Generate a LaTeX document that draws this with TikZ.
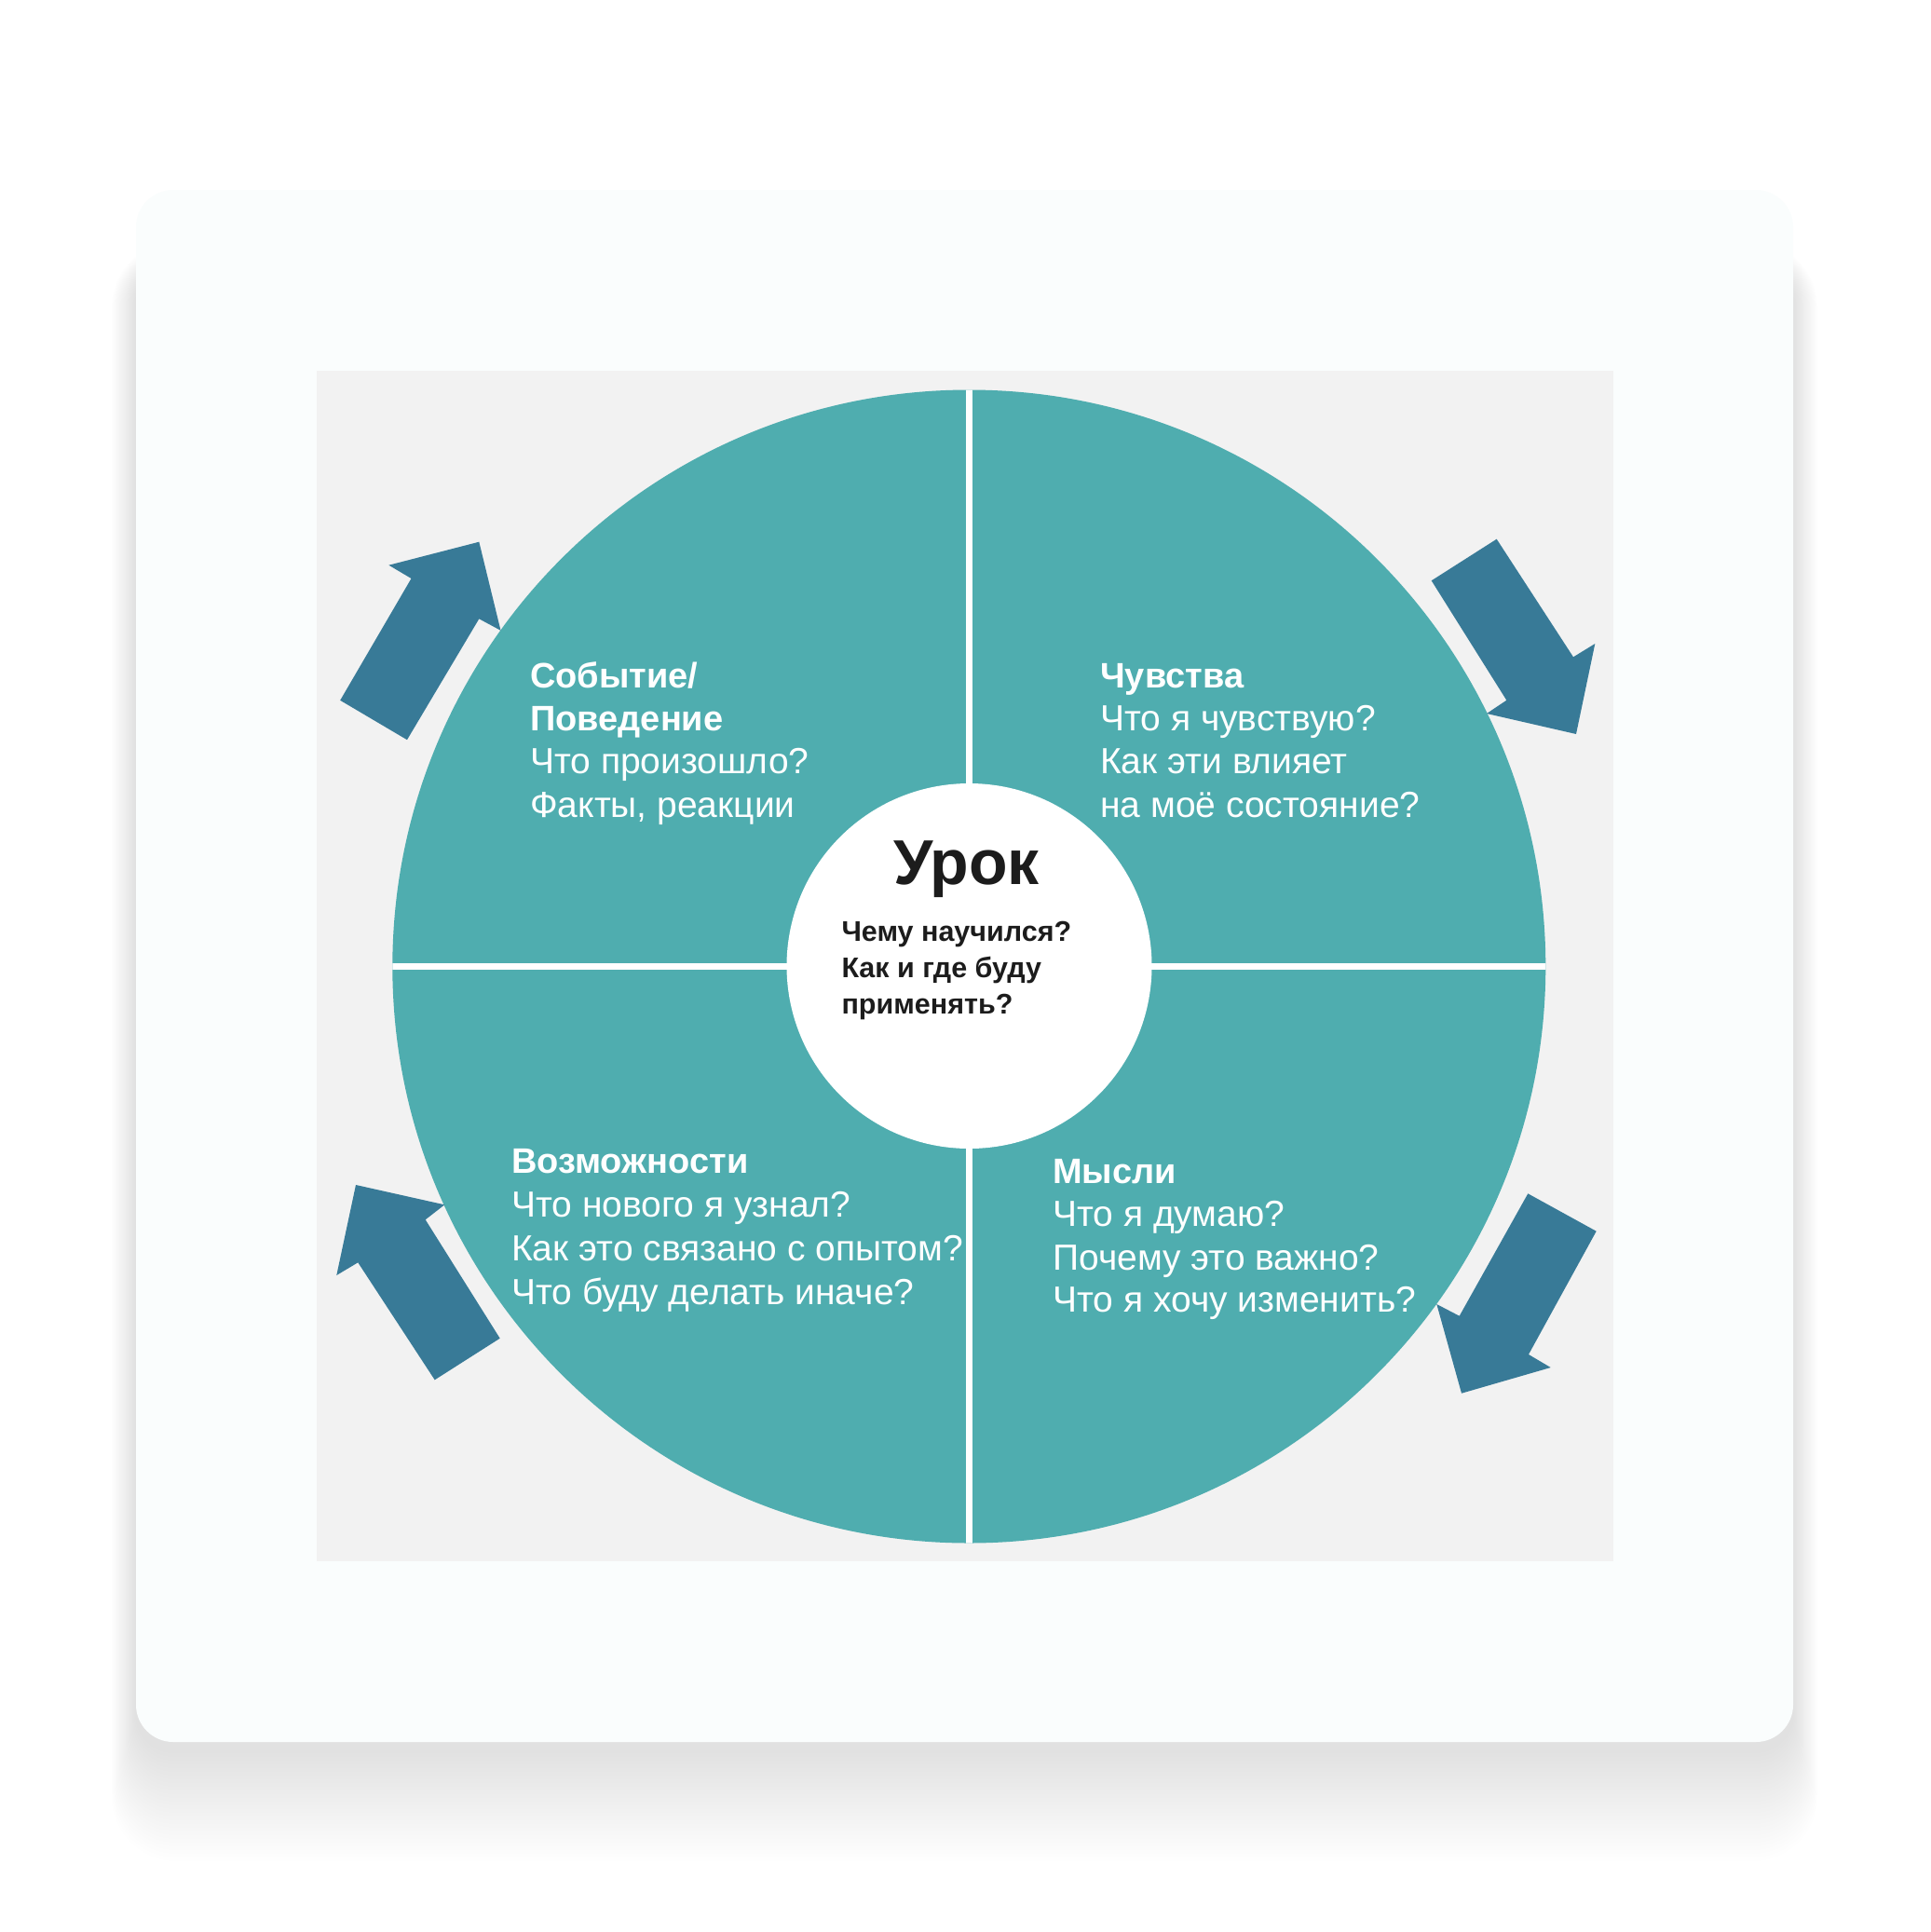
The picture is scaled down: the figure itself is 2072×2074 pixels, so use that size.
\documentclass[tikz,border=0pt]{standalone}
\usepackage{fontspec}
\setmainfont{Liberation Sans}
\definecolor{quadcol}{HTML}{4FADAF}
\definecolor{arrowcol}{HTML}{387A97}
\definecolor{graybg}{HTML}{F2F2F2}
\definecolor{cardcol}{HTML}{FAFDFD}
\definecolor{inktext}{HTML}{1C1C1C}
\begin{document}
\begin{tikzpicture}[x=1pt,y=-1pt,
  qhead/.style={anchor=base west, inner sep=0pt, text=white, font=\fontsize{38}{46}\selectfont\bfseries},
  qbody/.style={anchor=base west, inner sep=0pt, text=white, font=\fontsize{39}{46}\selectfont},
  ctitle/.style={anchor=base, inner sep=0pt, text=inktext, font=\fontsize{68}{80}\selectfont\bfseries},
  cbody/.style={anchor=base west, inner sep=0pt, text=inktext, font=\fontsize{30.5}{39}\selectfont\bfseries},
  bigarrow/.style={fill=arrowcol},
]
\useasboundingbox (0,0) rectangle (2072,2074);
\fill[white] (0,0) rectangle (2072,2074);
% card shadow
\foreach \e in {4,8,...,120}{
  \fill[black, opacity=0.005, rounded corners={40+0.25*\e}]
    ({146-0.22*\e},{284-0.2*\e}) rectangle ({1925+0.22*\e},{1878+\e});
}
% card
\fill[cardcol, rounded corners=40] (146,204) rectangle (1925,1870);
% gray panel
\fill[graybg] (340,398) rectangle (1732,1676);
% wheel
\coordinate (wc) at (1040.3,1037.5);
\fill[quadcol] (wc) circle[radius=619];
\begin{scope}
  \clip (wc) circle[radius=619];
  \fill[white] (1037.1,400) rectangle (1043.5,1680);
  \fill[white] (400,1034.2) rectangle (1680,1040.8);
\end{scope}
\fill[white] (1040.5,1037) circle[radius=196];
% arrows
\fill[bigarrow] (514.3,581.7) -- (537.5,676.8) -- (514.3,664.3) -- (437,794.2)
  -- (365.2,751.8) -- (441.5,621) -- (417.4,606.7) -- cycle;
\fill[bigarrow] (1536.7,623.3) -- (1606.7,578.7) -- (1689,705.3) -- (1712.3,691)
  -- (1692,788) -- (1596,766) -- (1617.3,751.7) -- cycle;
\fill[bigarrow] (1640.3,1281.3) -- (1713.7,1321.7) -- (1641,1454) -- (1664.7,1468)
  -- (1569,1495.7) -- (1542.3,1400) -- (1566.7,1412.7) -- cycle;
\fill[bigarrow] (382,1272) -- (477.3,1293.3) -- (456.7,1309.3) -- (536.7,1436.7)
  -- (466.7,1481.3) -- (384.3,1355.3) -- (361.3,1369) -- cycle;
% top-left quadrant text
\node[qhead] (tl1) at (569,738) {Событие/};
\node[qhead] (tl2) at (569,784.3) {Поведение};
\node[qbody] (tl3) at (569,830.6) {Что произошло?};
\node[qbody] (tl4) at (569,877) {Факты, реакции};
% top-right quadrant text
\node[qhead] (tr1) at (1181,738) {Чувства};
\node[qbody] (tr2) at (1181,784.3) {Что я чувствую?};
\node[qbody] (tr3) at (1181,830.6) {Как эти влияет};
\node[qbody] (tr4) at (1181,877) {на моё состояние?};
% bottom-left quadrant text
\node[qhead] (bl1) at (549,1259) {Возможности};
\node[qbody] (bl2) at (549,1306) {Что нового я узнал?};
\node[qbody] (bl3) at (549,1353) {Как это связано с опытом?};
\node[qbody] (bl4) at (549,1400) {Что буду делать иначе?};
% bottom-right quadrant text
\node[qhead] (br1) at (1130,1270) {Мысли};
\node[qbody] (br2) at (1130,1316.7) {Что я думаю?};
\node[qbody] (br3) at (1130,1363) {Почему это важно?};
\node[qbody] (br4) at (1130,1408.5) {Что я хочу изменить?};
% centre
\node[ctitle] (c0) at (1037.5,949.3) {Урок};
\node[cbody] (c1) at (903.3,1010.7) {Чему научился?};
\node[cbody] (c2) at (903.3,1049.3) {Как и где буду};
\node[cbody] (c3) at (903.3,1088.3) {применять?};
\end{tikzpicture}
\end{document}
